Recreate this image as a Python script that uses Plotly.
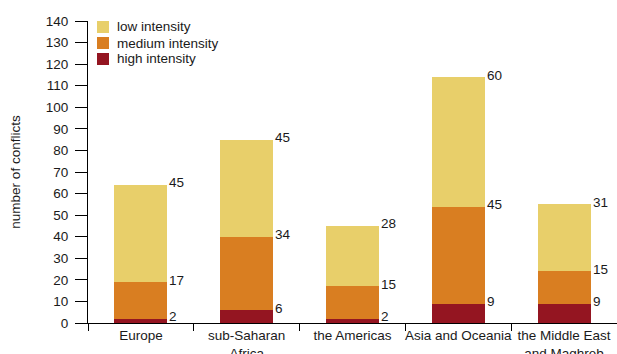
import plotly.graph_objects as go

regions = ["Europe", "sub-Saharan<br>Africa", "the Americas", "Asia and Oceania", "the Middle East<br>and Maghreb"]
high = [2, 6, 2, 9, 9]
medium = [17, 34, 15, 45, 15]
low = [45, 45, 28, 60, 31]

series_names = ["high intensity", "medium intensity", "low intensity"]
series_values = [high, medium, low]
series_colors = ["#941521", "#D97E21", "#E8CF6A"]

FONT = "Liberation Sans, Arial, sans-serif"
TXT = "#1a1a1a"
FS = 13.5
BAR_W = 0.5

fig = go.Figure()
for name, vals, col in zip(series_names, series_values, series_colors):
    fig.add_trace(go.Bar(x=regions, y=vals, name=name, marker=dict(color=col, line=dict(width=0)),
                         width=BAR_W, hoverinfo="x+y+name", showlegend=False))

# value labels at the top-right corner of each segment
annotations = []
for i in range(len(regions)):
    cum = 0
    for vals in series_values:
        cum += vals[i]
        annotations.append(dict(x=i + BAR_W / 2, y=cum, xref="x", yref="y", text=str(vals[i]),
                                showarrow=False, xanchor="left", yanchor="middle", xshift=0, yshift=2,
                                font=dict(family=FONT, size=FS, color=TXT)))

# legend (top-left, low intensity first)
shapes = []
PLOT_W, PLOT_H = 529, 302
for k, (name, col) in enumerate(reversed(list(zip(series_names, series_colors)))):
    cy = 6 + 16 * k  # px below plot top
    shapes.append(dict(type="rect", xref="paper", yref="paper",
                       x0=9 / PLOT_W, x1=21 / PLOT_W,
                       y0=1 - (cy + 6) / PLOT_H, y1=1 - (cy - 6) / PLOT_H,
                       fillcolor=col, line=dict(width=0)))
    annotations.append(dict(x=27 / PLOT_W, y=1 - cy / PLOT_H, xref="paper", yref="paper", text=name,
                            showarrow=False, xanchor="left", yanchor="middle",
                            font=dict(family=FONT, size=FS, color=TXT)))

fig.update_layout(
    barmode="stack",
    width=617, height=354,
    margin=dict(l=88, r=0, t=21, b=31),
    paper_bgcolor="white", plot_bgcolor="white",
    font=dict(family=FONT, size=FS, color=TXT),
    showlegend=False,
    annotations=annotations,
    shapes=shapes,
    bargap=0.5,
)
fig.update_xaxes(showline=True, linecolor="black", linewidth=1, ticks="outside", tickson="boundaries",
                 ticklen=7, tickcolor="black", showgrid=False, tickfont=dict(size=FS, color=TXT),
                 tickangle=0, automargin=False)
fig.update_yaxes(range=[0, 140], dtick=10, showline=True, linecolor="black", linewidth=1,
                 ticks="outside", ticklen=12, tickcolor="black", showgrid=False, zeroline=False,
                 tickfont=dict(size=FS, color=TXT), ticklabelstandoff=4,
                 title=dict(text="number of conflicts", font=dict(size=FS, color=TXT), standoff=22),
                 automargin=False)

fig.write_html("out.html")
